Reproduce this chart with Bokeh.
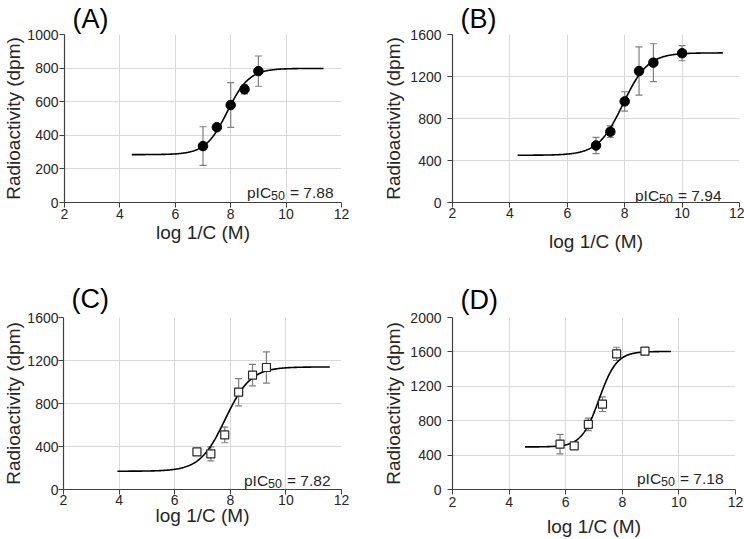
import numpy as np
from bokeh.plotting import figure
from bokeh.layouts import row, column
from bokeh.models import Whisker, TeeHead, ColumnDataSource, Label, Range1d, FixedTicker
from bokeh.embed import file_html
from bokeh.resources import INLINE

# ---------------- data ----------------
# Panel A (filled circles)
a_x = [7.0, 7.5, 8.0, 8.5, 9.0]
a_y = [336, 448, 580, 674, 782]
a_err = [115, 12, 133, 27, 90]
a_fit = dict(bottom=285, top=798, pic50=7.88, hill=1.1, x0=4.43, x1=11.35)

# Panel B (filled circles)
b_x = [7.0, 7.5, 8.0, 8.5, 9.0, 10.0]
b_y = [543, 674, 963, 1252, 1332, 1422]
b_err = [78, 55, 92, 230, 180, 72]
b_fit = dict(bottom=450, top=1425, pic50=7.94, hill=1.0, x0=4.27, x1=11.42)

# Panel C (open squares)
c_x = [6.8, 7.3, 7.8, 8.3, 8.8, 9.3]
c_y = [350, 332, 508, 905, 1064, 1135]
c_err = [0, 65, 73, 127, 100, 145]
c_fit = dict(bottom=170, top=1140, pic50=7.82, hill=0.95, x0=3.94, x1=11.58)

# Panel D (open squares)
d_x = [5.8, 6.3, 6.8, 7.3, 7.8, 8.8]
d_y = [527, 508, 758, 992, 1577, 1608]
d_err = [113, 20, 73, 85, 77, 35]
d_fit = dict(bottom=495, top=1605, pic50=7.18, hill=1.4, x0=4.56, x1=9.72)

x_ticks = [2, 4, 6, 8, 10, 12]
a_yticks = [0, 200, 400, 600, 800, 1000]
b_yticks = [0, 400, 800, 1200, 1600]
c_yticks = [0, 400, 800, 1200, 1600]
d_yticks = [0, 400, 800, 1200, 1600, 2000]

FONT = "Liberation Sans"
TXT = "#262626"

# Arial / Liberation Sans advance widths (em) used to butt text pieces together
ADV = {"0": .556, "1": .556, "2": .556, "3": .556, "4": .556, "5": .556, "6": .556,
       "7": .556, "8": .556, "9": .556, ".": .278, " ": .278, "=": .584}


def text_width(s, size):
    return sum(ADV.get(ch, .556) for ch in s) * size


def logistic(fit, n=300):
    xs = np.linspace(fit["x0"], fit["x1"], n)
    ys = fit["bottom"] + (fit["top"] - fit["bottom"]) / (
        1 + 10 ** ((fit["pic50"] - xs) * fit["hill"]))
    return xs, ys


def panel(tag, xs, ys, errs, fit, yticks, marker, w, h, bl, br, bt, bb,
          xstand, xlstand, ystand, ylstand, title_size, title_stand, ann_dx, ann_dy):
    p = figure(width=w, height=h, output_backend="svg", toolbar_location=None,
               x_range=Range1d(2, 12), y_range=Range1d(0, yticks[-1]),
               min_border_left=bl, min_border_right=br,
               min_border_top=bt, min_border_bottom=bb)
    p.outline_line_color = None
    p.background_fill_color = "white"
    p.border_fill_color = "white"
    for ax, ticks in ((p.xaxis[0], x_ticks), (p.yaxis[0], yticks)):
        ax.ticker = FixedTicker(ticks=ticks)
        ax.axis_line_color = "#404040"
        ax.axis_line_width = 1.2
        ax.major_tick_line_color = "#404040"
        ax.major_tick_out = 5
        ax.major_tick_in = 0
        ax.minor_tick_line_color = None
        ax.major_label_text_font = FONT
        ax.major_label_text_font_size = "14px"
        ax.major_label_text_color = TXT
        ax.axis_label_text_font = FONT
        ax.axis_label_text_font_size = "19px"
        ax.axis_label_text_font_style = "normal"
        ax.axis_label_text_color = TXT
    p.xaxis.axis_label = "log 1/C (M)"
    p.yaxis.axis_label = "Radioactivity (dpm)"
    p.xaxis.major_label_standoff = xstand
    p.yaxis.major_label_standoff = ystand
    p.xaxis.axis_label_standoff = xlstand
    p.yaxis.axis_label_standoff = ylstand
    p.xgrid.ticker = FixedTicker(ticks=x_ticks)
    p.ygrid.ticker = FixedTicker(ticks=yticks)
    p.grid.grid_line_color = "#d9d9d9"
    p.grid.grid_line_width = 1

    p.title.text = tag
    p.title.text_font = FONT
    p.title.text_font_size = "%dpx" % title_size
    p.title.text_font_style = "normal"
    p.title.text_color = "black"
    p.title.align = "left"
    p.title.offset = 8
    p.title.standoff = title_stand

    cx, cy = logistic(fit)
    p.line(cx, cy, line_color="black", line_width=1.6)

    src = ColumnDataSource(dict(x=xs, y=ys,
                                lo=[y - e for y, e in zip(ys, errs)],
                                hi=[y + e for y, e in zip(ys, errs)]))
    wk = Whisker(source=src, base="x", upper="hi", lower="lo",
                 line_color="#7f7f7f", line_width=1.2,
                 upper_head=TeeHead(size=7, line_color="#7f7f7f", line_width=1.2),
                 lower_head=TeeHead(size=7, line_color="#7f7f7f", line_width=1.2))
    p.add_layout(wk)
    if marker == "circle":
        p.scatter("x", "y", source=src, marker="circle", size=9.5,
                  fill_color="black", line_color="black")
    else:
        p.scatter("x", "y", source=src, marker="square", size=8,
                  fill_color="white", line_color="#262626", line_width=1.2)

    # "pIC50 = x.xx" with a real subscript, built from three text pieces
    fw = w - bl - br
    main_sz, sub_sz = 15.5, 12.5
    tail = "= %.2f" % fit["pic50"]
    r = fw - ann_dx
    r_sub = r - text_width(tail, main_sz) - 5
    r_p = r_sub - text_width("50", sub_sz)
    common = dict(x_units="screen", y_units="screen", text_font=FONT,
                  text_color=TXT, text_baseline="alphabetic", text_align="right")
    p.add_layout(Label(x=r, y=ann_dy, text=tail, text_font_size="%.1fpx" % main_sz, **common))
    p.add_layout(Label(x=r_sub, y=ann_dy - 3, text="50", text_font_size="%.1fpx" % sub_sz, **common))
    p.add_layout(Label(x=r_p, y=ann_dy, text="pIC", text_font_size="%.1fpx" % main_sz, **common))
    return p


#                                                      w    h   bl  br  bt  bb  xs xl ys yl tsz ts adx ady
pa = panel("(A)", a_x, a_y, a_err, a_fit, a_yticks, "circle",
           372, 270, 63, 31, 34, 66, 1, 0, 1, 0, 27, 2, 9, 10)
pb = panel("(B)", b_x, b_y, b_err, b_fit, b_yticks, "circle",
           372, 270, 80, 5, 30, 68, 0, 10, 6, 3, 27, 2, 18, 7)
pc = panel("(C)", c_x, c_y, c_err, c_fit, c_yticks, "square",
           372, 269, 63, 31, 47, 50, 0, -3, 0, 0, 27, 7, 11, 9)
pd = panel("(D)", d_x, d_y, d_err, d_fit, d_yticks, "square",
           372, 269, 80, 9, 47, 49, 2, 6, 6, 3, 27, 5, 12, 11)

layout = column(row(pa, pb), row(pc, pd))
open("out.html", "w").write(file_html(layout, INLINE))
